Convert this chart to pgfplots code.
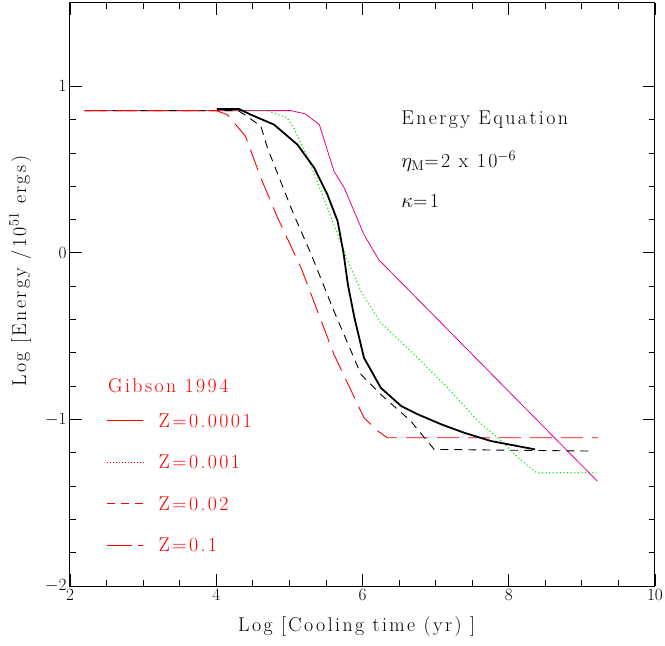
\documentclass[border=0pt]{standalone}
\usepackage{fontspec}
\setmainfont{Latin Modern Roman}
\newfontfamily\widefont{Latin Modern Roman}[LetterSpace=12]
\usepackage{pgfplots}
\pgfplotsset{compat=1.18}
\definecolor{mygreen}{RGB}{0,230,0}
\newcommand\bigtxt{\widefont\fontsize{20}{23}\selectfont}
\begin{document}
\begin{tikzpicture}
\begin{axis}[
  scale only axis, width=585bp, height=583bp,
  xmin=2, xmax=10, ymin=-2, ymax=1.5,
  xtick={2,4,6,8,10}, ytick={-2,-1,0,1},
  minor x tick num=3, minor y tick num=4,
  tick align=inside, major tick length=12bp, minor tick length=6bp,
  axis line style={line width=1bp}, every tick/.style={line width=0.8bp, black},
  ticklabel style={font=\fontsize{16}{18}\selectfont},
  xlabel={Log [Cooling time (yr) ]}, ylabel={Log [Energy /10$^{51}$ ergs)},
  label style={font=\bigtxt},
  xlabel style={at={(axis description cs:0.49,-0.07)}, anchor=center},
  ylabel style={at={(axis description cs:-0.085,0.54)}, anchor=center},
  clip=false,
]
\addplot[magenta, line width=0.8bp] coordinates {(2.2,0.854) (5.02,0.854) (5.22,0.834) (5.41,0.77) (5.61,0.49) (5.75,0.39) (6.02,0.11) (6.22,-0.04) (9.21,-1.37)};
\addplot[mygreen, line width=1.2bp, dash pattern=on 1bp off 2.6bp] coordinates {(2.2,0.854) (4.70,0.854) (4.97,0.81) (5.06,0.75) (5.25,0.57) (5.47,0.33) (5.66,0.11) (5.78,-0.03) (5.99,-0.24) (6.25,-0.42) (6.66,-0.59) (7.12,-0.79) (7.58,-1.01) (7.90,-1.13) (8.13,-1.23) (8.38,-1.32) (9.20,-1.32)};
\addplot[black, line width=0.9bp, dash pattern=on 8bp off 6bp] coordinates {(2.2,0.854) (4.3,0.854) (4.42,0.82) (4.61,0.76) (4.70,0.63) (5.06,0.23) (5.29,0.0) (5.61,-0.35) (5.98,-0.73) (6.25,-0.85) (6.66,-1.01) (6.98,-1.18) (9.16,-1.19)};
\addplot[red, line width=0.9bp, dash pattern=on 22bp off 9bp] coordinates {(2.2,0.854) (4.0,0.854) (4.15,0.83) (4.40,0.70) (4.61,0.45) (4.84,0.21) (5.16,-0.09) (5.61,-0.61) (6.02,-0.99) (6.21,-1.07) (6.34,-1.11) (9.22,-1.11)};
\addplot[black, line width=1.8bp] coordinates {(4.01,0.864) (4.31,0.864) (4.47,0.83) (4.79,0.77) (5.11,0.65) (5.34,0.51) (5.52,0.35) (5.66,0.19) (5.74,0.0) (5.80,-0.19) (5.89,-0.39) (6.02,-0.63) (6.25,-0.81) (6.53,-0.92) (6.76,-0.97) (7.08,-1.03) (7.39,-1.08) (7.76,-1.13) (8.36,-1.18)};
% legend samples
\addplot[red, line width=0.9bp, forget plot] coordinates {(2.5,-1.006) (3.0,-1.006)};
\addplot[red, line width=0.9bp, dash pattern=on 1bp off 2bp, forget plot] coordinates {(2.5,-1.256) (3.0,-1.256)};
\addplot[red, line width=0.9bp, dash pattern=on 8bp off 6bp, forget plot] coordinates {(2.5,-1.505) (3.0,-1.505)};
\addplot[red, line width=0.9bp, dash pattern=on 25bp off 6bp, forget plot] coordinates {(2.5,-1.754) (3.0,-1.754)};
\begin{scope}[every node/.style={font=\bigtxt, anchor=west, inner sep=0pt}]
\node[red] at (axis cs:2.52,-0.80) {Gibson 1994};
\node[red] at (axis cs:3.21,-1.006) {Z=0.0001};
\node[red] at (axis cs:3.21,-1.256) {Z=0.001};
\node[red] at (axis cs:3.21,-1.505) {Z=0.02};
\node[red] at (axis cs:3.21,-1.754) {Z=0.1};
\node at (axis cs:6.53,0.80) {Energy Equation};
\node at (axis cs:6.53,0.55) {$\eta_{\rm M}$=2 x 10$^{-6}$};
\node at (axis cs:6.53,0.31) {$\kappa$=1};
\end{scope}
\end{axis}
\pgfresetboundingbox
\path (-70bp,-60bp) rectangle (595bp,586bp);
\end{tikzpicture}
\end{document}
